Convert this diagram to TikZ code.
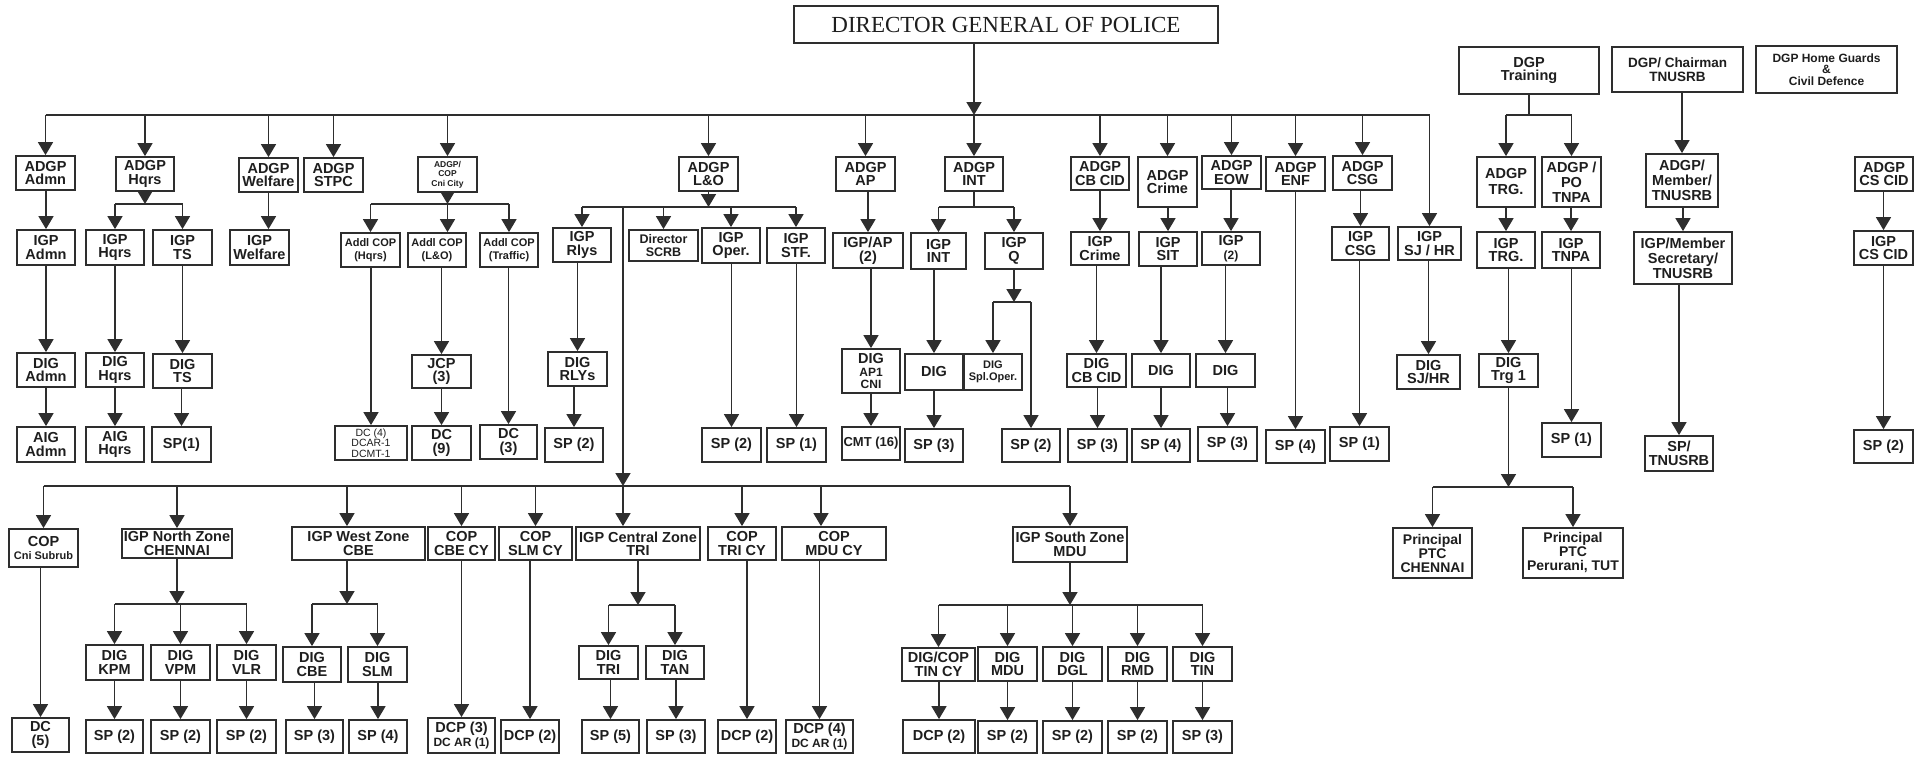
\documentclass[tikz,border=0pt]{standalone}
\usepackage{fontspec}
\setmainfont{Liberation Sans}
\newfontfamily\titlefont{Liberation Serif}
\usetikzlibrary{arrows.meta}
\definecolor{lc}{HTML}{2E2E2E}
\definecolor{tc}{HTML}{1E1E1E}
\newcommand\fsz[2]{\fontsize{#1}{#2}\selectfont}
\newcommand\OBox[7][]{%
  \pgfmathsetmacro\OBw{#5-#3}%
  \pgfmathsetmacro\OBh{#6-#4}%
  \pgfmathsetmacro\OBx{(#3+#5)/2}%
  \pgfmathsetmacro\OBy{(#4+#6)/2}%
  \node[box,minimum width=\OBw pt,minimum height=\OBh pt,#1] (#2) at (\OBx,\OBy) {#7};}
\newcommand\OLink[2]{\draw[arr] (#2.north |- #1.south) -- (#2.north);}
\newcommand\OBus[2]{\draw[arr] (#2.north |- #1) -- (#2.north);}
\begin{document}
\begin{tikzpicture}[x=1pt,y=-1pt,
  box/.style={draw=lc,line width=1.8pt,fill=white,inner sep=1pt,align=center,text=tc,font=\bfseries\fsz{14.5}{13.5}},
  ln/.style={draw=lc,line width=1.6pt},
  arr/.style={ln,-{Triangle[width=15pt,length=13pt]}}]
\fill[white] (0,0) rectangle (1923,756);
\useasboundingbox (0,0) rectangle (1923,756);

% ---------- title ----------
\OBox[font=\titlefont\fsz{23}{24},line width=2.2pt]{dgp}{794}{6}{1218}{43}{DIRECTOR GENERAL OF POLICE}

% ---------- ADGP row ----------
\OBox{a1}{16}{156}{75}{190}{ADGP\\Admn}
\OBox{a2}{116}{157}{174}{191}{ADGP\\Hqrs}
\OBox{a3}{239}{158}{298}{192}{ADGP\\Welfare}
\OBox{a4}{304}{158}{363}{192}{ADGP\\STPC}
\OBox[font=\bfseries\fsz{8.5}{9.5}]{a5}{418}{157}{477}{192}{ADGP/\\COP\\Cni City}
\OBox{a6}{679}{157}{738}{191}{ADGP\\L\&O}
\OBox{a7}{836}{157}{895}{191}{ADGP\\AP}
\OBox{a8}{945}{157}{1003}{191}{ADGP\\INT}
\OBox{a9}{1071}{157}{1129}{190}{ADGP\\CB CID}
\OBox{a10}{1138}{157}{1197}{207}{ADGP\\Crime}
\OBox{a11}{1202}{156}{1261}{189}{ADGP\\EOW}
\OBox{a12}{1266}{157}{1325}{191}{ADGP\\ENF}
\OBox{a13}{1333}{156}{1392}{190}{ADGP\\CSG}
\OBox{a14}{1398}{227}{1461}{260}{IGP\\SJ / HR}

% ---------- IGP row ----------
\OBox{b1}{17}{230}{75}{265}{IGP\\Admn}
\OBox{b2}{86}{230}{144}{265}{IGP\\Hqrs}
\OBox{b3}{153}{230}{212}{265}{IGP\\TS}
\OBox{b4}{230}{230}{289}{265}{IGP\\Welfare}
\OBox[font=\bfseries\fsz{11}{13}]{b5}{341}{233}{400}{267}{Addl COP\\(Hqrs)}
\OBox[font=\bfseries\fsz{11}{13}]{b6}{408}{233}{466}{267}{Addl COP\\(L\&O)}
\OBox[font=\bfseries\fsz{11}{13}]{b7}{480}{233}{538}{267}{Addl COP\\(Traffic)}
\OBox{b8}{553}{228}{611}{262}{IGP\\Rlys}
\OBox[font=\bfseries\fsz{12.5}{13}]{b9}{629}{230}{698}{261}{Director\\SCRB}
\OBox{b10}{702}{228}{760}{263}{IGP\\Oper.}
\OBox{b11}{767}{228}{825}{263}{IGP\\STF.}
\OBox{b12}{833}{233}{903}{268}{IGP/AP\\(2)}
\OBox{b13}{911}{233}{966}{269}{IGP\\INT}
\OBox{b14}{985}{233}{1043}{269}{IGP\\Q}
\OBox{b15}{1071}{232}{1129}{265}{IGP\\Crime}
\OBox{b16}{1139}{232}{1197}{266}{IGP\\SIT}
\OBox{b17}{1202}{232}{1260}{265}{IGP\\\fsz{12}{13}(2)}
\OBox{b19}{1332}{227}{1389}{260}{IGP\\CSG}

% ---------- DIG row ----------
\OBox{c1}{17}{353}{75}{387}{DIG\\Admn}
\OBox{c2}{86}{353}{144}{387}{DIG\\Hqrs}
\OBox{c3}{153}{354}{212}{388}{DIG\\TS}
\OBox{c6}{412}{355}{471}{388}{JCP\\(3)}
\OBox{c8}{548}{352}{607}{386}{DIG\\RLYs}
\OBox[font=\bfseries\fsz{14.5}{12.5}]{c12}{842}{349}{900}{393}{DIG\\\fsz{12}{12.5}AP1\\\fsz{12}{12.5}CNI}
\OBox{c13}{905}{354}{963}{390}{DIG}
\OBox[font=\bfseries\fsz{11}{12}]{c14}{964}{354}{1022}{390}{DIG\\Spl.Oper.}
\OBox{c15}{1067}{354}{1126}{387}{DIG\\CB CID}
\OBox{c16}{1132}{354}{1190}{387}{DIG}
\OBox{c17}{1196}{354}{1255}{387}{DIG}
\OBox{c20}{1397}{355}{1460}{389}{DIG\\SJ/HR}

% ---------- SP row ----------
\OBox{d1}{17}{427}{75}{462}{AIG\\Admn}
\OBox{d2}{86}{427}{144}{462}{AIG\\Hqrs}
\OBox{d3}{152}{427}{211}{462}{SP(1)}
\OBox[font=\fsz{10.5}{10.5}]{d5}{335}{426}{407}{460}{DC (4)\\DCAR-1\\DCMT-1}
\OBox{d6}{412}{426}{471}{460}{DC\\(9)}
\OBox{d7}{480}{425}{537}{459}{DC\\(3)}
\OBox{d8}{545}{428}{603}{462}{SP (2)}
\OBox{d10}{702}{428}{761}{462}{SP (2)}
\OBox{d11}{767}{428}{826}{462}{SP (1)}
\OBox[font=\bfseries\fsz{13}{13}]{d12}{842}{427}{900}{460}{CMT (16)}
\OBox{d13}{905}{429}{963}{462}{SP (3)}
\OBox{d14}{1002}{429}{1060}{462}{SP (2)}
\OBox{d15}{1068}{429}{1127}{462}{SP (3)}
\OBox{d16}{1132}{429}{1190}{462}{SP (4)}
\OBox{d17}{1198}{427}{1257}{461}{SP (3)}
\OBox{d18}{1266}{430}{1325}{463}{SP (4)}
\OBox{d19}{1330}{427}{1389}{461}{SP (1)}

% ---------- Training ----------
\OBox{t0}{1459}{47}{1599}{94}{DGP\\Training}
\OBox[font=\bfseries\fsz{14.5}{16}]{t1}{1477}{157}{1535}{207}{ADGP\\TRG.}
\OBox[font=\bfseries\fsz{14.5}{15}]{t2}{1542}{157}{1601}{207}{ADGP /\\PO\\TNPA}
\OBox{t3}{1477}{232}{1535}{268}{IGP\\TRG.}
\OBox{t4}{1542}{232}{1600}{268}{IGP\\TNPA}
\OBox{t5}{1479}{354}{1538}{387}{DIG\\Trg 1}
\OBox{t6}{1542}{423}{1601}{457}{SP (1)}
\OBox[font=\bfseries\fsz{14}{14}]{t7}{1393}{528}{1472}{578}{Principal\\PTC\\CHENNAI}
\OBox[font=\bfseries\fsz{14}{14}]{t8}{1523}{528}{1623}{578}{Principal\\PTC\\Perurani, TUT}

% ---------- TNUSRB, Home Guards, CS CID ----------
\OBox[font=\bfseries\fsz{13.5}{14}]{u0}{1612}{47}{1743}{92}{DGP/ Chairman\\TNUSRB}
\OBox[font=\bfseries\fsz{14.5}{15}]{u1}{1646}{154}{1718}{207}{ADGP/\\Member/\\TNUSRB}
\OBox[font=\bfseries\fsz{14.5}{15}]{u2}{1634}{232}{1732}{284}{IGP/Member\\Secretary/\\TNUSRB}
\OBox{u3}{1645}{436}{1713}{471}{SP/\\TNUSRB}
\OBox[font=\bfseries\fsz{12}{11.5}]{h0}{1756}{46}{1897}{93}{DGP Home Guards\\\&\\Civil Defence}
\OBox{v1}{1855}{157}{1913}{191}{ADGP\\CS CID}
\OBox{v2}{1854}{231}{1913}{265}{IGP\\CS CID}
\OBox{v3}{1854}{430}{1913}{463}{SP (2)}

% ---------- Zones ----------
\OBox{z1}{9}{529}{78}{567}{COP\\\fsz{11}{13.5}Cni Subrub}
\OBox{z1d}{12}{718}{69}{752}{DC\\(5)}
\OBox{z2}{122}{529}{232}{558}{IGP North Zone\\CHENNAI}
\OBox{n1}{86}{645}{143}{680}{DIG\\KPM}
\OBox{n2}{151}{645}{210}{680}{DIG\\VPM}
\OBox{n3}{217}{645}{276}{680}{DIG\\VLR}
\OBox{n1d}{86}{720}{143}{753}{SP (2)}
\OBox{n2d}{151}{720}{210}{753}{SP (2)}
\OBox{n3d}{217}{720}{276}{753}{SP (2)}
\OBox{z3}{292}{527}{425}{560}{IGP West Zone\\CBE}
\OBox{w1}{283}{647}{341}{682}{DIG\\CBE}
\OBox{w2}{348}{647}{407}{682}{DIG\\SLM}
\OBox{w1d}{286}{720}{343}{753}{SP (3)}
\OBox{w2d}{349}{720}{407}{753}{SP (4)}
\OBox{z4}{428}{527}{495}{560}{COP\\CBE CY}
\OBox{z4d}{428}{718}{495}{753}{DCP (3)\\\fsz{12}{13.5}DC AR (1)}
\OBox{z5}{499}{527}{572}{560}{COP\\SLM CY}
\OBox{z5d}{501}{720}{559}{753}{DCP (2)}
\OBox{z6}{576}{527}{700}{560}{IGP Central Zone\\TRI}
\OBox{cz1}{579}{646}{638}{679}{DIG\\TRI}
\OBox{cz2}{646}{646}{704}{679}{DIG\\TAN}
\OBox{cz1d}{582}{720}{639}{753}{SP (5)}
\OBox{cz2d}{647}{720}{705}{753}{SP (3)}
\OBox{z7}{708}{527}{776}{560}{COP\\TRI CY}
\OBox{z7d}{718}{720}{776}{753}{DCP (2)}
\OBox{z8}{782}{527}{886}{560}{COP\\MDU CY}
\OBox{z8d}{786}{720}{853}{753}{DCP (4)\\\fsz{12}{13.5}DC AR (1)}
\OBox{z9}{1013}{527}{1127}{562}{IGP South Zone\\MDU}
\OBox{s1}{902}{648}{975}{681}{DIG/COP\\TIN CY}
\OBox{s2}{978}{647}{1037}{681}{DIG\\MDU}
\OBox{s3}{1043}{647}{1102}{681}{DIG\\DGL}
\OBox{s4}{1108}{647}{1167}{681}{DIG\\RMD}
\OBox{s5}{1173}{647}{1232}{681}{DIG\\TIN}
\OBox{s1d}{903}{720}{975}{753}{DCP (2)}
\OBox{s2d}{978}{721}{1037}{753}{SP (2)}
\OBox{s3d}{1043}{721}{1102}{753}{SP (2)}
\OBox{s4d}{1108}{721}{1167}{753}{SP (2)}
\OBox{s5d}{1173}{721}{1232}{753}{SP (3)}

% ---------- bus coordinates ----------
\coordinate (bm) at (0,115);
\coordinate (hb) at (0,204);
\coordinate (cb) at (0,204);
\coordinate (lb) at (0,207);
\coordinate (ib) at (0,207);
\coordinate (qb) at (0,302);
\coordinate (tb) at (0,115);
\coordinate (pb) at (0,487);
\coordinate (zb) at (0,486);
\coordinate (nb) at (0,604);
\coordinate (wb) at (0,604);
\coordinate (cbz) at (0,605);
\coordinate (sb) at (0,605);
\coordinate (z3x) at ([xshift=-11.5pt]z3.north);
\coordinate (z6x) at ([xshift=-15pt]z6.north);
\coordinate (z8x) at ([xshift=-13pt]z8.north);

% ---------- main bus ----------
\draw[ln] (a1.north |- bm) -- (a14.north |- bm);
\draw[arr] (dgp.south -| a8.north) -- (a8.north |- bm);
\foreach \n in {a1,a2,a3,a4,a5,a6,a7,a8,a9,a10,a11,a12,a13,a14} {\OBus{bm}{\n}}

% Admn
\OLink{a1}{b1}\OLink{b1}{c1}\OLink{c1}{d1}
% Hqrs
\draw[arr] (a2.south) -- (a2.south |- hb);
\draw[ln] (b2.north |- hb) -- (b3.north |- hb);
\OBus{hb}{b2}\OBus{hb}{b3}
\OLink{b2}{c2}\OLink{c2}{d2}
\OLink{b3}{c3}\OLink{c3}{d3}
% Welfare
\draw[arr] (a3.south) -- (a3.south |- b4.north);
% Cni City
\draw[arr] (a5.south) -- (a5.south |- cb);
\draw[ln] (b5.north |- cb) -- (b7.north |- cb);
\OBus{cb}{b5}\OBus{cb}{b7}
\draw[arr] (a5.south |- cb) -- (a5.south |- b6.north);
\OLink{b5}{d5}\OLink{b6}{c6}\OLink{c6}{d6}\OLink{b7}{d7}
% L&O
\draw[arr] (a6.south) -- (a6.south |- lb);
\draw[ln] (b8.north |- lb) -- (b11.north |- lb);
\OBus{lb}{b8}\OBus{lb}{b9}\OBus{lb}{b10}\OBus{lb}{b11}
\OLink{b8}{c8}\OLink{c8}{d8}\OLink{b10}{d10}\OLink{b11}{d11}
% AP
\OLink{a7}{b12}\OLink{b12}{c12}\OLink{c12}{d12}
% INT
\draw[ln] (a8.south) -- (a8.south |- ib);
\draw[ln] (b13.north |- ib) -- (b14.north |- ib);
\OBus{ib}{b13}\OBus{ib}{b14}
\OLink{b13}{c13}\OLink{c13}{d13}
\draw[arr] (b14.south) -- (b14.south |- qb);
\draw[ln] (c14.north |- qb) -- (d14.north |- qb);
\OBus{qb}{c14}\OBus{qb}{d14}
% CB CID, Crime, EOW, ENF, CSG, SJ/HR
\OLink{a9}{b15}\OLink{b15}{c15}\OLink{c15}{d15}
\OLink{a10}{b16}\OLink{b16}{c16}\OLink{c16}{d16}
\OLink{a11}{b17}\OLink{b17}{c17}\OLink{c17}{d17}
\OLink{a12}{d18}
\OLink{a13}{b19}\OLink{b19}{d19}
\OLink{a14}{c20}

% Training
\draw[ln] (t0.south) -- (t0.south |- tb);
\draw[ln] (t1.north |- tb) -- (t2.north |- tb);
\OBus{tb}{t1}\OBus{tb}{t2}
\OLink{t1}{t3}\OLink{t3}{t5}
\draw[arr] (t5.south) -- (t5.south |- pb);
\draw[ln] (t7.north |- pb) -- (t8.north |- pb);
\OBus{pb}{t7}\OBus{pb}{t8}
\OLink{t2}{t4}\OLink{t4}{t6}
% TNUSRB
\OLink{u0}{u1}\OLink{u1}{u2}\OLink{u2}{u3}
% CS CID
\OLink{v1}{v2}\OLink{v2}{v3}

% ---------- zones ----------
\draw[arr] (z6x |- lb) -- (z6x |- zb);
\draw[ln] (z1.north |- zb) -- (z9.north |- zb);
\OBus{zb}{z1}\OBus{zb}{z2}\OBus{zb}{z4}\OBus{zb}{z5}\OBus{zb}{z7}\OBus{zb}{z9}
\draw[arr] (z3x |- zb) -- (z3x);
\draw[arr] (z6x |- zb) -- (z6x);
\draw[arr] (z8x |- zb) -- (z8x);
\OLink{z1}{z1d}
% North
\draw[arr] (z2.south) -- (z2.south |- nb);
\draw[ln] (n1.north |- nb) -- (n3.north |- nb);
\OBus{nb}{n1}\OBus{nb}{n2}\OBus{nb}{n3}
\OLink{n1}{n1d}\OLink{n2}{n2d}\OLink{n3}{n3d}
% West
\draw[arr] (z3x |- z3.south) -- (z3x |- wb);
\draw[ln] (w1.north |- wb) -- (w2.north |- wb);
\OBus{wb}{w1}\OBus{wb}{w2}
\OLink{w1}{w1d}\OLink{w2}{w2d}
% city
\OLink{z4}{z4d}\OLink{z5}{z5d}\OLink{z7}{z7d}\OLink{z8}{z8d}
% Central
\draw[arr] (z6.south) -- (z6.south |- cbz);
\draw[ln] (cz1.north |- cbz) -- (cz2.north |- cbz);
\OBus{cbz}{cz1}\OBus{cbz}{cz2}
\OLink{cz1}{cz1d}\OLink{cz2}{cz2d}
% South
\draw[arr] (z9.south) -- (z9.south |- sb);
\draw[ln] (s1.north |- sb) -- (s5.north |- sb);
\OBus{sb}{s1}\OBus{sb}{s2}\OBus{sb}{s3}\OBus{sb}{s4}\OBus{sb}{s5}
\OLink{s1}{s1d}\OLink{s2}{s2d}\OLink{s3}{s3d}\OLink{s4}{s4d}\OLink{s5}{s5d}
\end{tikzpicture}
\end{document}
